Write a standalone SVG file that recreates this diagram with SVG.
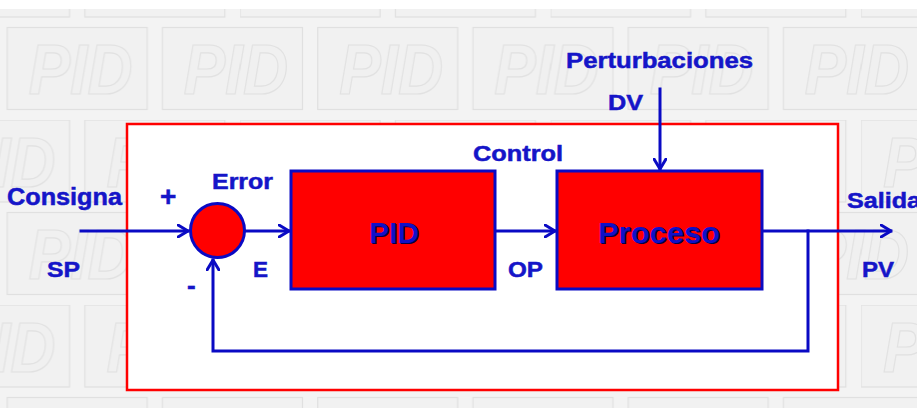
<svg xmlns="http://www.w3.org/2000/svg" width="917" height="408" viewBox="0 0 917 408">
  <defs>
    <style>
      .lbl { font-family: "Liberation Sans", Arial, sans-serif; font-weight: bold; fill: #1515c8; stroke: #1515c8; stroke-width: 0.5; font-size: 22px; }
      .big { font-family: "Liberation Sans", Arial, sans-serif; font-weight: bold; font-size: 30px; }
      .wire { fill: none; stroke: #0a0ac4; stroke-width: 3; stroke-linecap: square; }
      .box { fill: #ff0000; stroke: #0a0ac4; stroke-width: 3; }
      .wm { font-family: "Liberation Sans", Arial, sans-serif; font-style: italic; font-weight: bold; font-size: 70px; fill: #f0f0f0; stroke: #e1e1e1; stroke-width: 1.2; }
      .tile { fill: #f1f1f1; stroke: #e0e0e0; stroke-width: 1.2; }
    </style>
    <marker id="arr" viewBox="0 0 12 14" refX="11" refY="7" markerWidth="12" markerHeight="14" markerUnits="userSpaceOnUse" orient="auto">
      <path d="M1,1 L11,7 L1,13" fill="none" stroke="#0a0ac4" stroke-width="3" stroke-linecap="round" stroke-linejoin="round"/>
    </marker>
    <pattern id="bg" patternUnits="userSpaceOnUse" x="-70.4" y="-65" width="310.5" height="185">
      <rect class="tile" x="0" y="0" width="140" height="82"/>
      <rect class="tile" x="155.25" y="0" width="140" height="82"/>
      <rect class="tile" x="77.6" y="92.5" width="140" height="82"/>
      <rect class="tile" x="-77.6" y="92.5" width="140" height="82"/>
      <rect class="tile" x="232.9" y="92.5" width="140" height="82"/>
      <text class="wm" x="22" y="67" textLength="104" lengthAdjust="spacingAndGlyphs">PID</text>
      <text class="wm" x="177" y="67" textLength="104" lengthAdjust="spacingAndGlyphs">PID</text>
      <text class="wm" x="99" y="159" textLength="104" lengthAdjust="spacingAndGlyphs">PID</text>
      <text class="wm" x="-56" y="159" textLength="104" lengthAdjust="spacingAndGlyphs">PID</text>
      <text class="wm" x="254" y="159" textLength="104" lengthAdjust="spacingAndGlyphs">PID</text>
    </pattern>
  </defs>

  <g id="background">
    <rect x="0" y="0" width="917" height="408" fill="#f3f3f3"/>
    <rect x="0" y="9" width="917" height="399" fill="url(#bg)"/>
    <rect x="0" y="0" width="917" height="9" fill="#ffffff"/>
  </g>

  <g id="frame">
    <rect x="127" y="124" width="711" height="266" fill="#ffffff" stroke="#ff0000" stroke-width="2.5"/>
  </g>

  <g id="connectors">
    <line class="wire" x1="81" y1="231" x2="188" y2="231" marker-end="url(#arr)"/>
    <line class="wire" x1="246" y1="231" x2="289" y2="231" marker-end="url(#arr)"/>
    <line class="wire" x1="496" y1="231" x2="555" y2="231" marker-end="url(#arr)"/>
    <line class="wire" x1="763" y1="231" x2="891" y2="231" marker-end="url(#arr)"/>
    <line class="wire" x1="660" y1="89" x2="660" y2="169" marker-end="url(#arr)"/>
    <polyline class="wire" points="808,231 808,351 213,351 213,260" marker-end="url(#arr)"/>
  </g>

  <g id="sum">
    <circle cx="217.5" cy="230.5" r="27" fill="#ff0000" stroke="#0a0ac4" stroke-width="3"/>
  </g>

  <g id="pid">
    <rect class="box" x="291" y="171" width="204" height="118"/>
    <text class="big" x="370" y="244" fill="#00004a" textLength="50" lengthAdjust="spacingAndGlyphs">PID</text>
    <text class="big" x="369" y="243" fill="#1010c8" textLength="50" lengthAdjust="spacingAndGlyphs">PID</text>
  </g>

  <g id="proceso">
    <rect class="box" x="557" y="171" width="205" height="118"/>
    <text class="big" x="599" y="244" fill="#00004a" textLength="122" lengthAdjust="spacingAndGlyphs">Proceso</text>
    <text class="big" x="598" y="243" fill="#1010c8" textLength="122" lengthAdjust="spacingAndGlyphs">Proceso</text>
  </g>

  <g id="labels">
    <text class="lbl" x="7" y="205" style="font-size:23px" textLength="115" lengthAdjust="spacingAndGlyphs">Consigna</text>
    <text class="lbl" x="47" y="277" textLength="33" lengthAdjust="spacingAndGlyphs">SP</text>
    <text class="lbl" x="160" y="206" style="font-size:28px">+</text>
    <text class="lbl" x="187" y="294" style="font-size:26px">-</text>
    <text class="lbl" x="212" y="189" textLength="61" lengthAdjust="spacingAndGlyphs">Error</text>
    <text class="lbl" x="253" y="277" textLength="15" lengthAdjust="spacingAndGlyphs">E</text>
    <text class="lbl" x="473" y="161" textLength="90" lengthAdjust="spacingAndGlyphs">Control</text>
    <text class="lbl" x="508" y="277" textLength="35" lengthAdjust="spacingAndGlyphs">OP</text>
    <text class="lbl" x="566" y="68" textLength="187" lengthAdjust="spacingAndGlyphs">Perturbaciones</text>
    <text class="lbl" x="608" y="110" textLength="35" lengthAdjust="spacingAndGlyphs">DV</text>
    <text class="lbl" x="847" y="208" textLength="74" lengthAdjust="spacingAndGlyphs">Salida</text>
    <text class="lbl" x="862" y="277" textLength="32" lengthAdjust="spacingAndGlyphs">PV</text>
  </g>
</svg>
